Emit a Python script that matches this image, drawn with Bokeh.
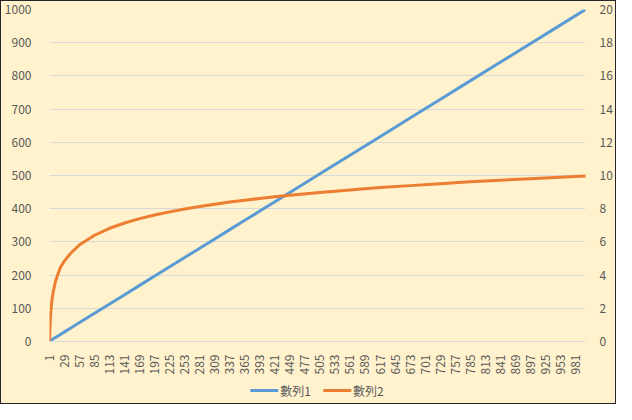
from bokeh.plotting import figure
from bokeh.models import Range1d, LinearAxis, FixedTicker, Legend, LegendItem
from bokeh.layouts import column
from bokeh.embed import file_html
from bokeh.resources import INLINE
import math

# ---- data ----
x_pts = [1, 2, 3, 4, 6, 8, 12, 16, 22, 29, 40, 57, 85, 113, 141, 169, 197, 225,
         253, 281, 309, 337, 365, 393, 421, 449, 505, 561, 617, 673, 729, 785,
         841, 897, 953, 1000]
series1 = [1, 2, 3, 4, 6, 8, 12, 16, 22, 29, 40, 57, 85, 113, 141, 169, 197, 225,
           253, 281, 309, 337, 365, 393, 421, 449, 505, 561, 617, 673, 729, 785,
           841, 897, 953, 1000]
series2 = [0.0, 1.0, 1.6, 2.0, 2.6, 3.0, 3.6, 4.0, 4.5, 4.86, 5.3, 5.83, 6.4, 6.82,
           7.14, 7.4, 7.62, 7.81, 7.98, 8.13, 8.27, 8.4, 8.51, 8.62, 8.72, 8.81,
           8.98, 9.13, 9.27, 9.39, 9.51, 9.62, 9.72, 9.81, 9.9, 9.97]
x_tick_labels = [1, 29, 57, 85, 113, 141, 169, 197, 225, 253, 281, 309, 337, 365,
                 393, 421, 449, 477, 505, 533, 561, 589, 617, 645, 673, 701, 729,
                 757, 785, 813, 841, 869, 897, 925, 953, 981]
left_ticks = [0, 100, 200, 300, 400, 500, 600, 700, 800, 900, 1000]
right_ticks = [0, 2, 4, 6, 8, 10, 12, 14, 16, 18, 20]
names = ["數列1", "數列2"]
colors = ["#5B9BD5", "#ED7D31"]

BG = "#FFF2CC"
TXT = "#595959"
GRID = "#D9D9D9"
FONT = "Noto Sans CJK TC"

# ---- main chart ----
p = figure(width=614, height=376, output_backend="svg", toolbar_location=None,
           x_range=Range1d(1, 1000), y_range=Range1d(0, 1000),
           background_fill_color=BG, border_fill_color=BG,
           min_border_left=38, min_border_right=26, min_border_top=8,
           min_border_bottom=0)
p.extra_y_ranges = {"right": Range1d(0, 20)}
p.outline_line_color = None

p.xaxis.ticker = FixedTicker(ticks=x_tick_labels)
p.xaxis.major_label_orientation = math.pi / 2
p.yaxis.ticker = FixedTicker(ticks=left_ticks)

ax_r = LinearAxis(y_range_name="right", ticker=FixedTicker(ticks=right_ticks))
p.add_layout(ax_r, "right")

for ax in [p.xaxis[0], p.yaxis[0], ax_r]:
    ax.major_tick_line_color = None
    ax.minor_tick_line_color = None
    ax.major_label_text_color = TXT
    ax.major_label_text_font = FONT
    ax.major_label_text_font_size = "12px"
p.xaxis.axis_line_color = GRID
p.xaxis.major_label_standoff = 7
p.yaxis.axis_line_color = None
ax_r.axis_line_color = None
p.yaxis.major_label_standoff = 12
ax_r.major_label_standoff = 8

p.xgrid.grid_line_color = None
p.ygrid.grid_line_color = GRID
p.ygrid.ticker = FixedTicker(ticks=left_ticks[1:])

p.line(x_pts, series1, line_color=colors[0], line_width=3, line_cap="round")
p.line(x_pts, series2, line_color=colors[1], line_width=3, line_cap="round",
       y_range_name="right")

# ---- legend strip (same series, drawn outside its visible range) ----
lf = figure(width=614, height=26, output_backend="svg", toolbar_location=None,
            x_range=Range1d(2000, 3000), y_range=Range1d(0, 1000),
            x_axis_type=None, y_axis_type=None,
            background_fill_color=BG, border_fill_color=BG,
            min_border=0)
lf.outline_line_color = None
lf.grid.grid_line_color = None
l1 = lf.line(x_pts, series1, line_color=colors[0], line_width=3, line_cap="round")
l2 = lf.line(x_pts, series2, line_color=colors[1], line_width=3, line_cap="round")

legend = Legend(items=[LegendItem(label=names[0], renderers=[l1]),
                       LegendItem(label=names[1], renderers=[l2])],
                orientation="horizontal", location="center",
                background_fill_alpha=0, border_line_alpha=0,
                label_text_color=TXT, label_text_font=FONT,
                label_text_font_size="12px", glyph_width=28, spacing=12,
                label_standoff=2, padding=2, margin=0)
lf.add_layout(legend, "center")

layout = column(p, lf, spacing=0,
                styles={"border": "1px solid #262626", "background-color": BG})

open("out.html", "w").write(file_html(layout, INLINE))
